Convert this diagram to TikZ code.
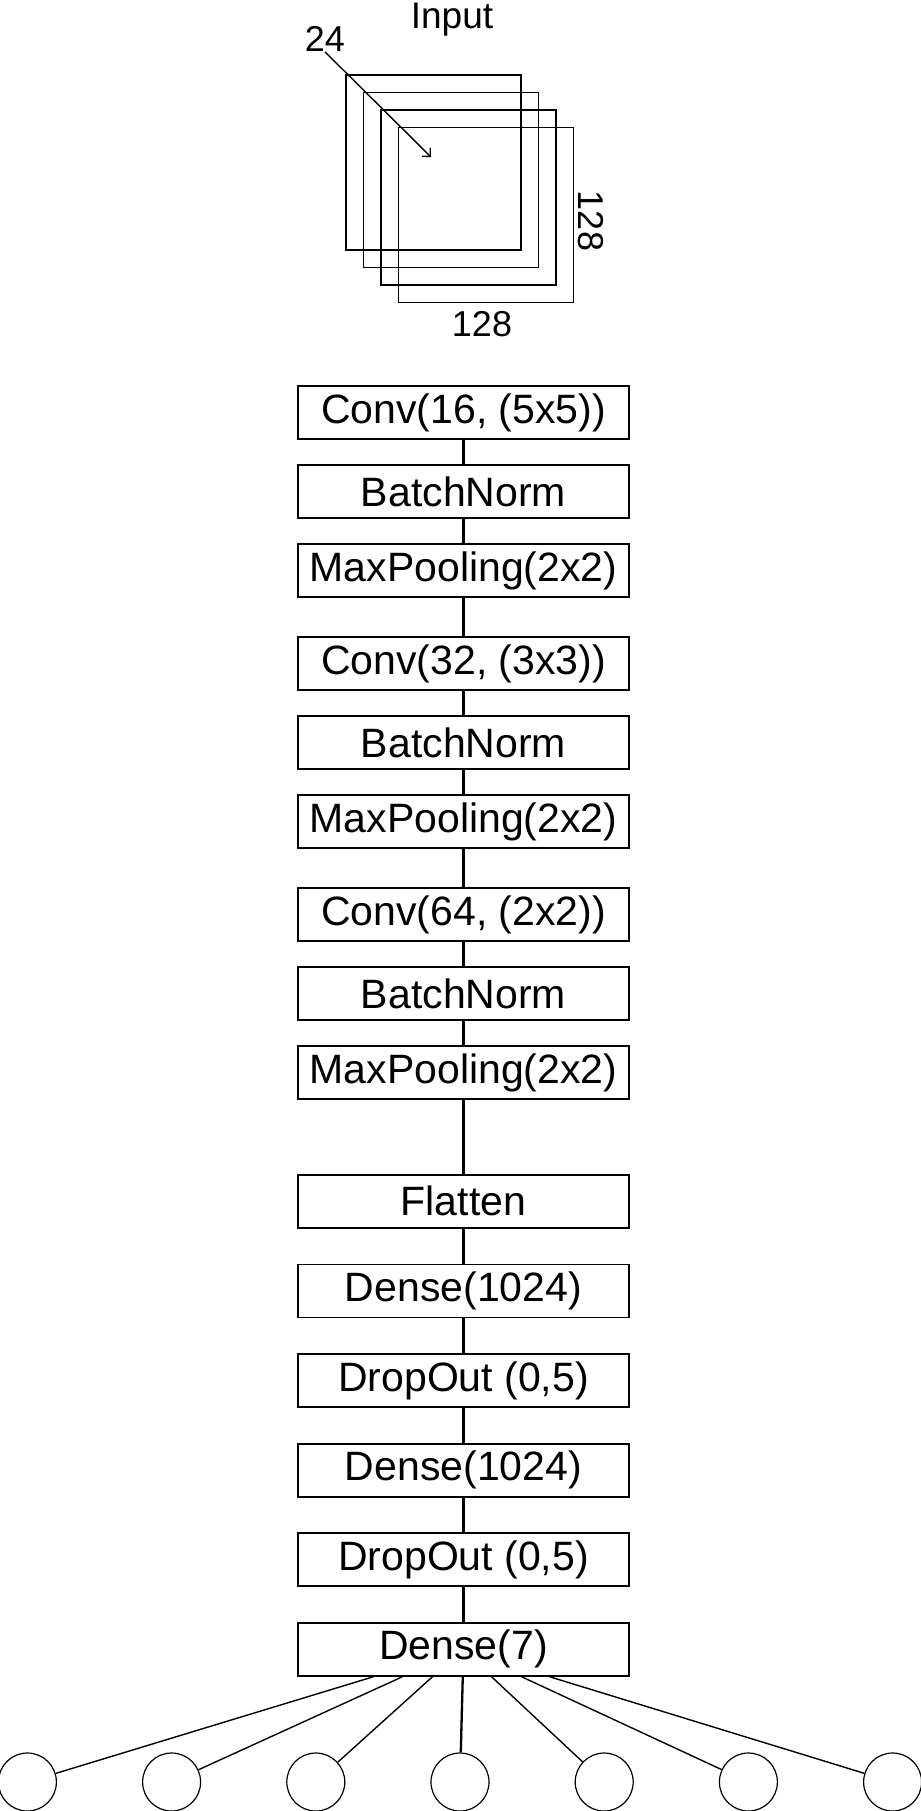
\documentclass[tikz,border=0pt]{standalone}
\usepackage{fontspec}
\setmainfont{Liberation Sans}
\usetikzlibrary{arrows.meta,positioning}

\begin{document}
\begin{tikzpicture}[x=0.5pt,y=-0.5pt,
    lay/.style={draw,line width=0.9pt,minimum width=165.5pt,minimum height=26.5pt,inner sep=0pt,font=\fontsize{20.5}{24}\selectfont},
    sq/.style={draw,line width=0.85pt,minimum size=87.5pt,inner sep=0pt},
    lbl/.style={inner sep=0pt,font=\fontsize{18}{20}\selectfont},
    unit/.style={draw,circle,line width=0.6pt,minimum size=29pt,inner sep=0pt},
    ln/.style={line width=1.15pt},
    fan/.style={line width=0.7pt}]
    \useasboundingbox (0,0) rectangle (921,1811);
    % input volume
    \node[sq] (s1) at (433.5,162.5) {};
    \node[sq] (s2) at (451,180) {};
    \node[sq] (s3) at (468.5,197.5) {};
    \node[sq] (s4) at (486,215) {};
    \node[lbl,anchor=base,font=\fontsize{18.5}{21}\selectfont] (inp) at (452,28.5) {Input};
    \node[lbl,anchor=base] (ch) at (325,51.5) {24};
    \node[lbl,rotate=-90] (hgt) at (591,221) {128};
    \node[lbl,anchor=base] (wid) at (482,336.5) {128};
    \coordinate (chend) at (431,157);
    \draw[line width=0.7pt,-{Straight Barb[length=3pt,width=6pt]}] (ch.south) -- (chend);
    % layers
    \node[lay] (c1) at (463.5,412.5) {Conv(16, (5x5))};
    \node[lay,below=12.1pt of c1] (b1) {BatchNorm};
    \node[lay,below=12.1pt of b1] (p1) {MaxPooling(2x2)};
    \node[lay,below=19.1pt of p1] (c2) {Conv(32, (3x3))};
    \node[lay,below=12.1pt of c2] (b2) {BatchNorm};
    \node[lay,below=12.1pt of b2] (p2) {MaxPooling(2x2)};
    \node[lay,below=19.1pt of p2] (c3) {Conv(64, (2x2))};
    \node[lay,below=12.1pt of c3] (b3) {BatchNorm};
    \node[lay,below=12.1pt of b3] (p3) {MaxPooling(2x2)};
    \node[lay,below=37pt of p3] (fl) {Flatten};
    \node[lay,below=17.4pt of fl] (d1) {Dense(1024)};
    \node[lay,below=17.4pt of d1] (r1) {DropOut (0,5)};
    \node[lay,below=17.4pt of r1] (d2) {Dense(1024)};
    \node[lay,below=17.4pt of d2] (r2) {DropOut (0,5)};
    \node[lay,below=17.4pt of r2] (d7) {Dense(7)};
    \draw[ln] (c1)--(b1); \draw[ln] (b1)--(p1); \draw[ln] (p1)--(c2);
    \draw[ln] (c2)--(b2); \draw[ln] (b2)--(p2); \draw[ln] (p2)--(c3);
    \draw[ln] (c3)--(b3); \draw[ln] (b3)--(p3); \draw[ln] (p3)--(fl);
    \draw[ln] (fl)--(d1); \draw[ln] (d1)--(r1); \draw[ln] (r1)--(d2);
    \draw[ln] (d2)--(r2); \draw[ln] (r2)--(d7);
    % outputs
    \node[unit] (o4) at (460,1782) {};
    \node[unit,left=42.5pt of o4] (o3) {};
    \node[unit,left=42.5pt of o3] (o2) {};
    \node[unit,left=42.5pt of o2] (o1) {};
    \node[unit,right=42.5pt of o4] (o5) {};
    \node[unit,right=42.5pt of o5] (o6) {};
    \node[unit,right=42.5pt of o6] (o7) {};
    \draw[fan] ([xshift=-45pt]d7.south) -- (o1);
    \draw[fan] ([xshift=-30.5pt]d7.south) -- (o2);
    \draw[fan] ([xshift=-15.5pt]d7.south) -- (o3);
    \draw[ln] (d7) -- (o4);
    \draw[fan] ([xshift=14pt]d7.south) -- (o5);
    \draw[fan] ([xshift=29pt]d7.south) -- (o6);
    \draw[fan] ([xshift=43pt]d7.south) -- (o7);
  \end{tikzpicture}
\end{document}
